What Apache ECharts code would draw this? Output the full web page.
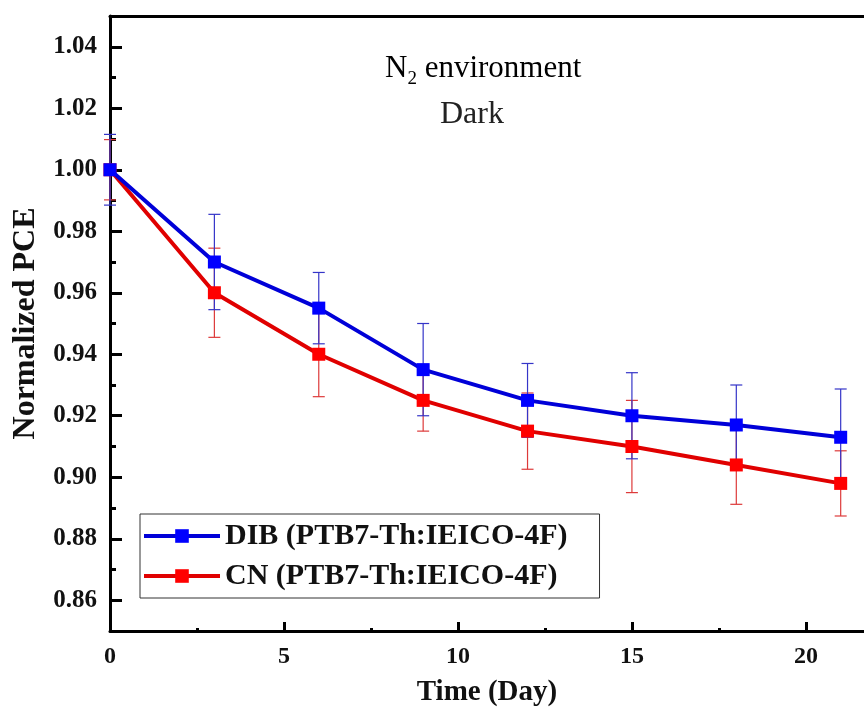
<!DOCTYPE html>
<html>
<head>
<meta charset="utf-8">
<script src="https://cdn.jsdelivr.net/npm/echarts@6/dist/echarts.min.js"></script>
<style>
  html, body { margin: 0; padding: 0; background: #fff; }
  #chart { width: 864px; height: 708px; }
</style>
</head>
<body>
<div id="chart"></div>
<script>
// days of aging
const days = [0, 3, 6, 9, 12, 15, 18, 21]
// normalized PCE and +/- error
const dibPCE = [1.000, 0.970, 0.955, 0.935, 0.925, 0.920, 0.917, 0.913]
const dibErr = [0.0115, 0.0155, 0.0116, 0.015, 0.012, 0.014, 0.013, 0.0157]
const cnPCE = [1.000, 0.960, 0.940, 0.925, 0.915, 0.910, 0.904, 0.898]
const cnErr = [0.0098, 0.0145, 0.0138, 0.010, 0.0124, 0.015, 0.0128, 0.0106]
// ticks
const yMajorTicks = [0.86, 0.88, 0.90, 0.92, 0.94, 0.96, 0.98, 1.00, 1.02, 1.04]
const yMinorTicks = [0.87, 0.89, 0.91, 0.93, 0.95, 0.97, 0.99, 1.01, 1.03]
const xMajorTicks = [0, 5, 10, 15, 20]
const xMinorTicks = [2.5, 7.5, 12.5, 17.5]

const dibName = 'DIB (PTB7-Th:IEICO-4F)'
const cnName = 'CN (PTB7-Th:IEICO-4F)'
const font = 'Liberation Serif'

function errorBars(color) {
  return function (params, api) {
    let x = api.value(0)
    let y = api.value(1)
    let e = api.value(2)
    let top = api.coord([x, y + e])
    let bot = api.coord([x, y - e])
    let w = 6
    let style = { stroke: color, lineWidth: 1.2 }
    return {
      type: 'group',
      children: [
        { type: 'line', shape: { x1: top[0], y1: top[1], x2: bot[0], y2: bot[1] }, style: style },
        { type: 'line', shape: { x1: top[0] - w, y1: top[1], x2: top[0] + w, y2: top[1] }, style: style },
        { type: 'line', shape: { x1: bot[0] - w, y1: bot[1], x2: bot[0] + w, y2: bot[1] }, style: style }
      ]
    }
  }
}

let chart = echarts.init(document.getElementById('chart'))
let xMin = 0
let xMax = 21.67
let yMin = 0.85
let yMax = 1.05
const axisLineStyle = { color: '#000', width: 3 }

const options = {
  animation: false,
  grid: {
    left: 110,
    top: 16,
    right: 0,
    bottom: 77,
    containLabel: false,
    outerBoundsMode: 'none'
  },
  legend: {
    orient: 'vertical',
    left: 140,
    top: 514,
    data: [dibName, cnName],
    itemWidth: 76,
    itemHeight: 17,
    itemGap: 10,
    padding: [7, 32, 7, 2],
    borderColor: '#333',
    borderWidth: 1,
    lineStyle: { width: 4 },
    textStyle: {
      fontFamily: font,
      fontWeight: 'bold',
      fontSize: 30,
      color: '#111'
    }
  },
  xAxis: [
    {
      type: 'value',
      min: xMin,
      max: xMax,
      name: 'Time (Day)',
      nameLocation: 'middle',
      nameGap: 47,
      nameTextStyle: {
        fontFamily: font,
        fontWeight: 'bold',
        fontSize: 29,
        color: '#111'
      },
      splitLine: { show: false },
      axisLine: { onZero: false, lineStyle: axisLineStyle },
      axisTick: {
        inside: true,
        length: 9,
        customValues: xMajorTicks,
        lineStyle: { color: '#000', width: 3 }
      },
      axisLabel: {
        customValues: xMajorTicks,
        margin: 14,
        fontFamily: font,
        fontWeight: 'bold',
        fontSize: 24,
        color: '#111'
      }
    },
    {
      type: 'value',
      min: xMin,
      max: xMax,
      position: 'bottom',
      splitLine: { show: false },
      axisLine: { show: false },
      axisTick: {
        inside: true,
        length: 3,
        customValues: xMinorTicks,
        lineStyle: { color: '#000', width: 3 }
      },
      axisLabel: { show: false }
    },
    {
      type: 'value',
      min: xMin,
      max: xMax,
      position: 'top',
      splitLine: { show: false },
      axisLine: { lineStyle: axisLineStyle },
      axisTick: { show: false },
      axisLabel: { show: false }
    }
  ],
  yAxis: [
    {
      type: 'value',
      min: yMin,
      max: yMax,
      name: 'Normalized PCE',
      nameLocation: 'middle',
      nameRotate: 90,
      nameGap: 68,
      nameTextStyle: {
        fontFamily: font,
        fontWeight: 'bold',
        fontSize: 32,
        color: '#111'
      },
      splitLine: { show: false },
      axisLine: { lineStyle: axisLineStyle },
      axisTick: {
        inside: true,
        length: 12,
        customValues: yMajorTicks,
        lineStyle: { color: '#000', width: 3 }
      },
      axisLabel: {
        customValues: yMajorTicks,
        margin: 13,
        formatter: v => v.toFixed(2),
        fontFamily: font,
        fontWeight: 'bold',
        fontSize: 25,
        color: '#111'
      }
    },
    {
      type: 'value',
      min: yMin,
      max: yMax,
      position: 'left',
      splitLine: { show: false },
      axisLine: { show: false },
      axisTick: {
        inside: true,
        length: 6,
        customValues: yMinorTicks,
        lineStyle: { color: '#000', width: 3 }
      },
      axisLabel: { show: false }
    }
  ],
  graphic: [
    {
      type: 'text',
      left: 385,
      top: 48,
      style: {
        text: '{a|N}{s|2}{a| environment}',
        rich: {
          a: { fontFamily: font, fontSize: 31, color: '#222', lineHeight: 36 },
          s: { fontFamily: font, fontSize: 19, color: '#222', lineHeight: 36, padding: [22, 0, 0, 0] }
        }
      }
    },
    {
      type: 'text',
      left: 440,
      top: 99,
      style: {
        text: 'Dark',
        fontFamily: font,
        fontSize: 32,
        fill: '#222'
      }
    }
  ],
  series: [
    {
      name: cnName + ' err',
      type: 'custom',
      z: 1,
      renderItem: errorBars('#dd3a3a'),
      data: days.map((d, i) => [d, cnPCE[i], cnErr[i]]),
      encode: { x: 0, y: 1 }
    },
    {
      name: dibName + ' err',
      type: 'custom',
      z: 1,
      renderItem: errorBars('#3535c8'),
      data: days.map((d, i) => [d, dibPCE[i], dibErr[i]]),
      encode: { x: 0, y: 1 }
    },
    {
      name: cnName,
      type: 'line',
      z: 3,
      data: days.map((d, i) => [d, cnPCE[i]]),
      symbol: 'rect',
      symbolSize: 13,
      lineStyle: { color: '#e00000', width: 4 },
      itemStyle: { color: '#ff0000' }
    },
    {
      name: dibName,
      type: 'line',
      z: 4,
      data: days.map((d, i) => [d, dibPCE[i]]),
      symbol: 'rect',
      symbolSize: 13,
      lineStyle: { color: '#0000d8', width: 4 },
      itemStyle: { color: '#0000ff' }
    }
  ]
}
chart.setOption(options)
</script>
</body>
</html>
